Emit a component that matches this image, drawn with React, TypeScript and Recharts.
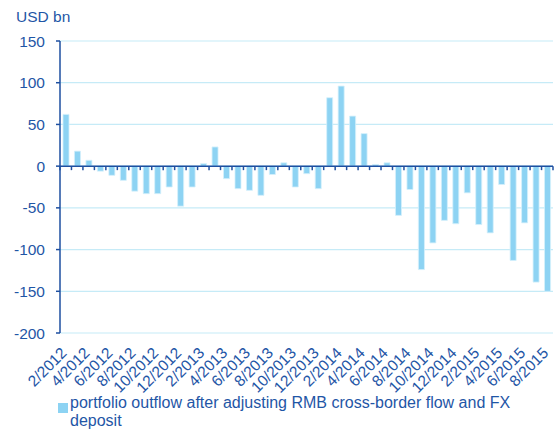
import { BarChart, Bar, XAxis, YAxis, CartesianGrid, ReferenceLine, Legend } from 'recharts'

const months = [
  '2/2012', '3/2012', '4/2012', '5/2012', '6/2012', '7/2012', '8/2012', '9/2012', '10/2012', '11/2012', '12/2012',
  '1/2013', '2/2013', '3/2013', '4/2013', '5/2013', '6/2013', '7/2013', '8/2013', '9/2013', '10/2013', '11/2013', '12/2013',
  '1/2014', '2/2014', '3/2014', '4/2014', '5/2014', '6/2014', '7/2014', '8/2014', '9/2014', '10/2014', '11/2014', '12/2014',
  '1/2015', '2/2015', '3/2015', '4/2015', '5/2015', '6/2015', '7/2015', '8/2015',
]

const outflow = [
  62, 18, 7, -6, -11, -17, -30, -33, -33, -25, -48,
  -25, 3, 23, -15, -27, -29, -35, -10, 4, -25, -9, -27,
  82, 96, 60, 39, 2, 4, -59, -28, -124, -92, -65, -69,
  -32, -70, -80, -22, -113, -68, -139, -150,
]

const yTicks = [150, 100, 50, 0, -50, -100, -150, -200]

const seriesName = 'portfolio outflow after adjusting RMB cross-border flow and FX deposit'

const data = months.map((m, i) => ({ month: m, flow: outflow[i] }))

const FONT = '"Liberation Sans", Arial, sans-serif'
const TEXT = '#1f56a6'
const AXIS = '#1e4fa0'
const BAR = '#8dd3f3'
const GRID = '#c6ebf7'

function XTick({ x, y, payload, index }: any) {
  const i = payload?.index ?? index
  if (i % 2 !== 0) return <g />
  const tx = x + 2
  const ty = y + 21
  return (
    <text
      x={tx}
      y={ty}
      transform={`rotate(-45 ${tx} ${ty})`}
      textAnchor="end"
      fill={TEXT}
      fontSize={15.5}
      fontFamily={FONT}
    >
      {payload.value}
    </text>
  )
}

// zero line with a small tick at every category boundary
function ZeroLine({ x1, y1, x2 }: any) {
  const n = data.length
  const step = (x2 - x1) / n
  const ticks = []
  for (let i = 0; i <= n; i++) {
    const tx = x1 + i * step
    ticks.push(<line key={i} x1={tx} x2={tx} y1={y1} y2={y1 + 4} stroke={AXIS} strokeWidth={1.5} />)
  }
  return (
    <g>
      <line x1={x1} x2={x2} y1={y1} y2={y1} stroke={AXIS} strokeWidth={1.5} />
      {ticks}
    </g>
  )
}

function LegendBox() {
  return (
    <div style={{ height: 43, position: 'relative', fontFamily: FONT, fontSize: 16, color: TEXT }}>
      <div style={{ position: 'absolute', left: 58, top: 10, width: 10, height: 10, background: BAR }} />
      <div style={{ position: 'absolute', left: 70, top: 1, width: 470, lineHeight: '18px', textAlign: 'left' }}>
        {seriesName}
      </div>
    </div>
  )
}

export default function App() {
  return (
    <div style={{ position: 'absolute', left: 0, top: 0, width: 554, height: 436, background: '#fff' }}>
      <div
        style={{
          position: 'absolute',
          left: 16,
          top: 8,
          fontFamily: FONT,
          fontSize: 15.5,
          color: TEXT,
          zIndex: 2,
        }}
      >
        USD bn
      </div>
      <BarChart
        width={554}
        height={436}
        data={data}
        margin={{ top: 41, right: 1, left: 0, bottom: 0 }}
        barSize={6}
      >
        <CartesianGrid vertical={false} stroke={GRID} strokeWidth={1.2} />
        <XAxis
          dataKey="month"
          interval={0}
          tick={<XTick />}
          tickLine={false}
          axisLine={false}
          tickSize={0}
          tickMargin={0}
          height={60}
        />
        <YAxis
          domain={[-200, 150]}
          ticks={yTicks}
          interval={0}
          width={60}
          axisLine={{ stroke: AXIS, strokeWidth: 1.5 }}
          tickLine={{ stroke: AXIS, strokeWidth: 1.5 }}
          tickSize={4}
          tickMargin={11}
          tick={{ fill: TEXT, fontSize: 15.5, fontFamily: FONT }}
        />
        <Legend
          verticalAlign="bottom"
          content={<LegendBox />}
          wrapperStyle={{ left: 0, bottom: 0, width: 554, height: 43 }}
        />
        <Bar
          dataKey="flow"
          name={seriesName}
          fill={BAR}
          stroke="#d4f0fb"
          strokeWidth={0.8}
          isAnimationActive={false}
        />
        <ReferenceLine y={0} shape={<ZeroLine />} />
      </BarChart>
    </div>
  )
}
